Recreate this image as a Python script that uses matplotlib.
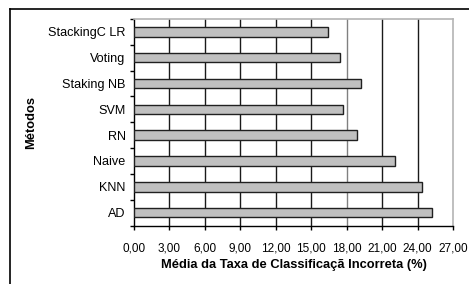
import numpy as np
import matplotlib
matplotlib.use("Agg")
import matplotlib.pyplot as plt
from matplotlib.lines import Line2D

# Data (bottom to top)
methods = ["AD", "KNN", "Naive", "RN", "SVM", "Staking NB", "Voting", "StackingC LR"]
error_rate = [25.25, 24.4, 22.05, 18.85, 17.65, 19.2, 17.45, 16.4]
x_ticks = np.arange(0, 27.01, 3)
x_tick_labels = ["{:.2f}".format(v).replace(".", ",") for v in x_ticks]

plt.rcParams["font.family"] = ["Liberation Sans", "DejaVu Sans"]

W, H = 469, 284
fig = plt.figure(figsize=(W / 100, H / 100), dpi=100)
ax = fig.add_axes([134 / W, 1 - 225.5 / H, (453 - 134) / W, (225.5 - 19) / H])

y = np.arange(len(methods))
ax.barh(y, error_rate, height=0.37, color="#c0c0c0", edgecolor="#202020",
        linewidth=1.0, zorder=3)

ax.set_xlim(0, 27)
ax.set_ylim(-0.5, len(methods) - 0.5)

ax.set_xticks(x_ticks)
ax.set_xticklabels(x_tick_labels, fontsize=8.5)
ax.set_yticks(y)
ax.set_yticklabels(methods, fontsize=9.1)
ax.tick_params(axis="y", length=0, pad=6)
ax.tick_params(axis="x", length=3, width=1, direction="out", pad=9)

# category separator ticks on the left axis
ax.set_yticks(np.arange(-0.5, len(methods), 1), minor=True)
ax.tick_params(axis="y", which="minor", length=3, width=1, direction="out")

# vertical gridlines
for v in x_ticks[1:-1]:
    ax.axvline(v, color="#808080" if v == 18 else "#1a1a1a", linewidth=1, zorder=1)

for s in ["top", "right"]:
    ax.spines[s].set_color("#b4b4b4")
    ax.spines[s].set_linewidth(1.2)
for s in ["left", "bottom"]:
    ax.spines[s].set_color("black")
    ax.spines[s].set_linewidth(1)

ax.set_xlabel("Média da Taxa de Classificaçã Incorreta (%)", fontsize=9.3,
              fontweight="bold")
ax.xaxis.set_label_coords(0.5, (225.5 - 265) / (225.5 - 19))
ax.xaxis.label.set_va("center")
ax.set_ylabel("Métodos", fontsize=9.3, fontweight="bold")
ax.yaxis.set_label_coords((31 - 134) / (453 - 134), 0.5)
ax.yaxis.label.set_va("center")

# chart area frame
fig.add_artist(Line2D([10 / W, 1], [1 - 9 / H, 1 - 9 / H], color="black",
                      linewidth=1.2, transform=fig.transFigure))
fig.add_artist(Line2D([10 / W, 10 / W], [0, 1 - 9 / H], color="black",
                      linewidth=1.2, transform=fig.transFigure))

fig.savefig("out.png", dpi=100)
